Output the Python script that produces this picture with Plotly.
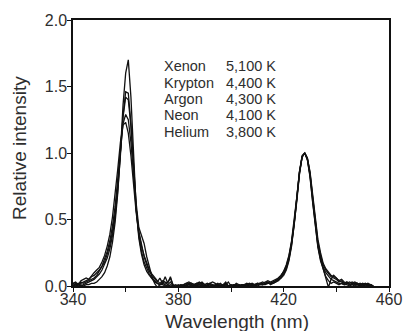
import plotly.graph_objects as go

# shared wavelength grid (nm), 1 nm steps
wavelength = list(range(340, 455))

xenon = [
    0.00, 0.01, 0.00, 0.01, 0.00,
    0.01, 0.01, 0.02, 0.02, 0.03, 0.05, 0.07, 0.10, 0.15, 0.22, 0.33, 0.48, 0.70, 1.00, 1.36, 1.60,
    1.70, 1.42, 0.94, 0.58, 0.36, 0.24, 0.16, 0.11, 0.08, 0.05, 0.03, 0.02, 0.01, 0.02, 0.01,
    0.00, 0.01, 0.00, -0.01, 0.00, 0.01, 0.00, 0.00, 0.01, 0.00, 0.01, 0.00, 0.00, 0.01, 0.00, 0.00,
    0.01, 0.00, 0.00, 0.01, 0.00, 0.00, 0.01, 0.00, 0.00, 0.01, 0.00, 0.01, 0.00, 0.00, 0.01, 0.00,
    0.01, 0.01, 0.00, 0.01, 0.01, 0.01, 0.02,
    0.02, 0.03, 0.04, 0.05, 0.06, 0.09, 0.13, 0.20, 0.31, 0.46, 0.65, 0.85, 0.97, 1.00, 0.95, 0.82,
    0.63, 0.44, 0.29, 0.19, 0.12, 0.07, 0.04, 0.02, 0.03, 0.02, 0.01, 0.02, 0.01, 0.01, 0.00,
    0.01, 0.00, 0.01, 0.00, 0.01, 0.00, 0.00, 0.01, 0.00,
]
krypton = [
    0.02, 0.01, 0.02, 0.00, 0.01,
    0.02, 0.03, 0.04, 0.05, 0.07, 0.09, 0.12, 0.16, 0.21, 0.28, 0.38, 0.52, 0.72, 0.98, 1.28, 1.46,
    1.45, 1.22, 0.88, 0.58, 0.38, 0.26, 0.18, 0.13, 0.09, 0.06, 0.04, 0.02, 0.01, 0.01, 0.00,
    0.01, 0.00, -0.01, 0.00, 0.01, 0.00, 0.01, 0.02, 0.01, 0.00, 0.01, 0.02, 0.01, 0.00, 0.01, 0.00,
    0.00, 0.01, 0.00, 0.01, 0.00, 0.01, 0.00, 0.00, 0.01, 0.00, 0.01, 0.00, 0.01, 0.01, 0.00, 0.01,
    0.00, 0.01, 0.02, 0.01, 0.01, 0.02, 0.02,
    0.02, 0.02, 0.03, 0.04, 0.06, 0.08, 0.12, 0.19, 0.30, 0.45, 0.64, 0.84, 0.97, 1.00, 0.96, 0.84,
    0.65, 0.46, 0.31, 0.21, 0.14, 0.10, 0.07, 0.05, 0.04, 0.03, 0.02, 0.02, 0.01, 0.02, 0.01,
    0.01, 0.02, 0.01, 0.00, 0.01, 0.01, 0.00, 0.01, 0.00,
]
argon = [
    0.00, 0.02, 0.01, 0.03, 0.02,
    0.03, 0.04, 0.05, 0.06, 0.08, 0.11, 0.14, 0.18, 0.24, 0.31, 0.41, 0.55, 0.75, 1.00, 1.27, 1.42,
    1.40, 1.20, 0.90, 0.62, 0.44, 0.38, 0.32, 0.22, 0.14, 0.07, 0.02, -0.01, 0.01, 0.03, 0.02,
    0.03, 0.06, 0.01, 0.00, -0.01, 0.00, 0.01, 0.02, 0.03, 0.02, 0.01, 0.02, 0.03, 0.01, 0.00, 0.01,
    0.02, 0.03, 0.02, 0.00, 0.01, 0.00, 0.02, 0.00, -0.01, 0.01, 0.00, 0.01, 0.00, 0.01, 0.02, 0.01,
    0.00, 0.01, 0.02, 0.02, 0.01, 0.02, 0.03,
    0.01, 0.02, 0.03, 0.05, 0.07, 0.10, 0.14, 0.21, 0.32, 0.47, 0.66, 0.86, 0.98, 1.00, 0.95, 0.83,
    0.64, 0.45, 0.30, 0.20, 0.13, 0.04, -0.01, 0.05, 0.08, 0.06, 0.04, 0.03, 0.02, 0.03, 0.01,
    0.02, 0.01, 0.02, 0.01, 0.00, 0.01, 0.01, 0.00, 0.00,
]
neon = [
    0.01, 0.00, 0.01, 0.02, 0.03,
    0.04, 0.05, 0.07, 0.08, 0.10, 0.12, 0.15, 0.20, 0.26, 0.34, 0.45, 0.60, 0.80, 1.03, 1.22, 1.29,
    1.25, 1.08, 0.82, 0.58, 0.41, 0.30, 0.22, 0.16, 0.11, 0.08, 0.05, 0.03, 0.06, 0.02, 0.07,
    0.02, 0.07, 0.00, 0.01, 0.00, 0.01, 0.00, 0.01, 0.02, 0.01, 0.00, 0.01, 0.02, 0.03, 0.01, 0.02,
    0.01, 0.00, 0.01, 0.02, 0.00, 0.01, 0.03, 0.00, 0.01, 0.00, 0.02, 0.01, 0.00, 0.01, 0.01, 0.02,
    0.01, 0.00, 0.01, 0.02, 0.03, 0.02, 0.03,
    0.02, 0.03, 0.04, 0.06, 0.08, 0.11, 0.15, 0.22, 0.33, 0.48, 0.66, 0.85, 0.97, 1.00, 0.96, 0.85,
    0.67, 0.48, 0.33, 0.23, 0.16, 0.12, 0.09, 0.07, 0.06, 0.05, 0.03, 0.04, 0.02, 0.03, 0.02,
    0.03, 0.02, 0.01, 0.02, 0.01, 0.02, 0.01, 0.01, 0.00,
]
helium = [
    0.02, 0.03, 0.01, 0.04, 0.05,
    0.06, 0.05, 0.08, 0.10, 0.12, 0.14, 0.18, 0.23, 0.30, 0.39, 0.52, 0.68, 0.88, 1.08, 1.21, 1.23,
    1.15, 0.98, 0.76, 0.55, 0.40, 0.30, 0.23, 0.17, 0.12, 0.09, 0.06, 0.04, 0.02, 0.04, 0.03,
    0.01, 0.03, 0.00, -0.01, 0.00, 0.00, 0.01, 0.00, 0.01, 0.02, 0.01, 0.00, 0.01, 0.02, 0.01, 0.00,
    0.02, 0.01, 0.00, 0.01, 0.02, 0.00, 0.01, 0.03, 0.00, 0.01, 0.01, 0.00, 0.01, 0.00, 0.01, 0.01,
    0.02, 0.01, 0.01, 0.02, 0.02, 0.03, 0.04,
    0.03, 0.04, 0.05, 0.06, 0.08, 0.11, 0.16, 0.23, 0.34, 0.49, 0.67, 0.86, 0.97, 1.00, 0.96, 0.86,
    0.68, 0.50, 0.35, 0.25, 0.17, 0.13, 0.10, 0.08, 0.07, 0.06, 0.04, 0.05, 0.03, 0.02, 0.03,
    0.02, 0.03, 0.02, 0.01, 0.02, 0.01, 0.02, 0.01, 0.00,
]

gases = ["Xenon", "Krypton", "Argon", "Neon", "Helium"]
temps = ["5,100 K", "4,400 K", "4,300 K", "4,100 K", "3,800 K"]
series = [xenon, krypton, argon, neon, helium]

x_tickvals = [340, 360, 380, 400, 420, 440, 460]
x_ticktext = ["340", "", "380", "", "420", "", "460"]
y_tickvals = [0.0, 0.5, 1.0, 1.5, 2.0]
y_ticktext = ["0.0", "0.5", "1.0", "1.5", "2.0"]

FONT = "Liberation Sans, Arial, Helvetica, sans-serif"
TXT = "#2e2e2e"

fig = go.Figure()
for name, ys in zip(gases, series):
    fig.add_trace(go.Scatter(x=wavelength, y=ys, mode="lines", name=name,
                             line=dict(color="#111111", width=1.3), showlegend=False))

# legend-like text block (name column left-aligned, value column right-aligned)
y_mid = 1.406
dy = 0.1226
for i, (g, t) in enumerate(zip(gases, temps)):
    yy = y_mid + (2 - i) * dy
    fig.add_annotation(x=374.0, y=yy, xref="x", yref="y", text=g, showarrow=False,
                       xanchor="left", yanchor="middle", borderpad=0,
                       font=dict(family=FONT, size=14.5, color=TXT))
    fig.add_annotation(x=417.6, y=yy, xref="x", yref="y", text=t, showarrow=False,
                       xanchor="right", yanchor="middle", borderpad=0,
                       font=dict(family=FONT, size=14.5, color=TXT))

# axis titles
fig.add_annotation(x=0.519, y=0, xref="paper", yref="paper", yanchor="middle", xanchor="center",
                   yshift=-35, text="Wavelength (nm)", showarrow=False,
                   font=dict(family=FONT, size=19, color=TXT))
fig.add_annotation(x=0, y=0.519, xref="paper", yref="paper", yanchor="middle", xanchor="center",
                   xshift=-53, textangle=-90, text="Relative intensity", showarrow=False,
                   font=dict(family=FONT, size=19, color=TXT))

fig.update_layout(
    width=406, height=331,
    margin=dict(l=73, r=17, t=20, b=45),
    paper_bgcolor="white", plot_bgcolor="white",
    font=dict(family=FONT, size=16, color=TXT),
    xaxis=dict(range=[340, 460], tickvals=x_tickvals, ticktext=x_ticktext,
               ticks="outside", ticklen=4, tickwidth=1, tickcolor="#111",
               ticklabelstandoff=-6, automargin=False,
               showline=True, linecolor="#111", linewidth=1.5, mirror=True,
               showgrid=False, zeroline=False),
    yaxis=dict(range=[0, 2.0], tickvals=y_tickvals, ticktext=y_ticktext,
               ticks="outside", ticklen=4, tickwidth=1, tickcolor="#111",
               ticklabelstandoff=-3, automargin=False,
               showline=True, linecolor="#111", linewidth=1.5, mirror=True,
               showgrid=False, zeroline=False),
)

fig.write_html("out.html")
